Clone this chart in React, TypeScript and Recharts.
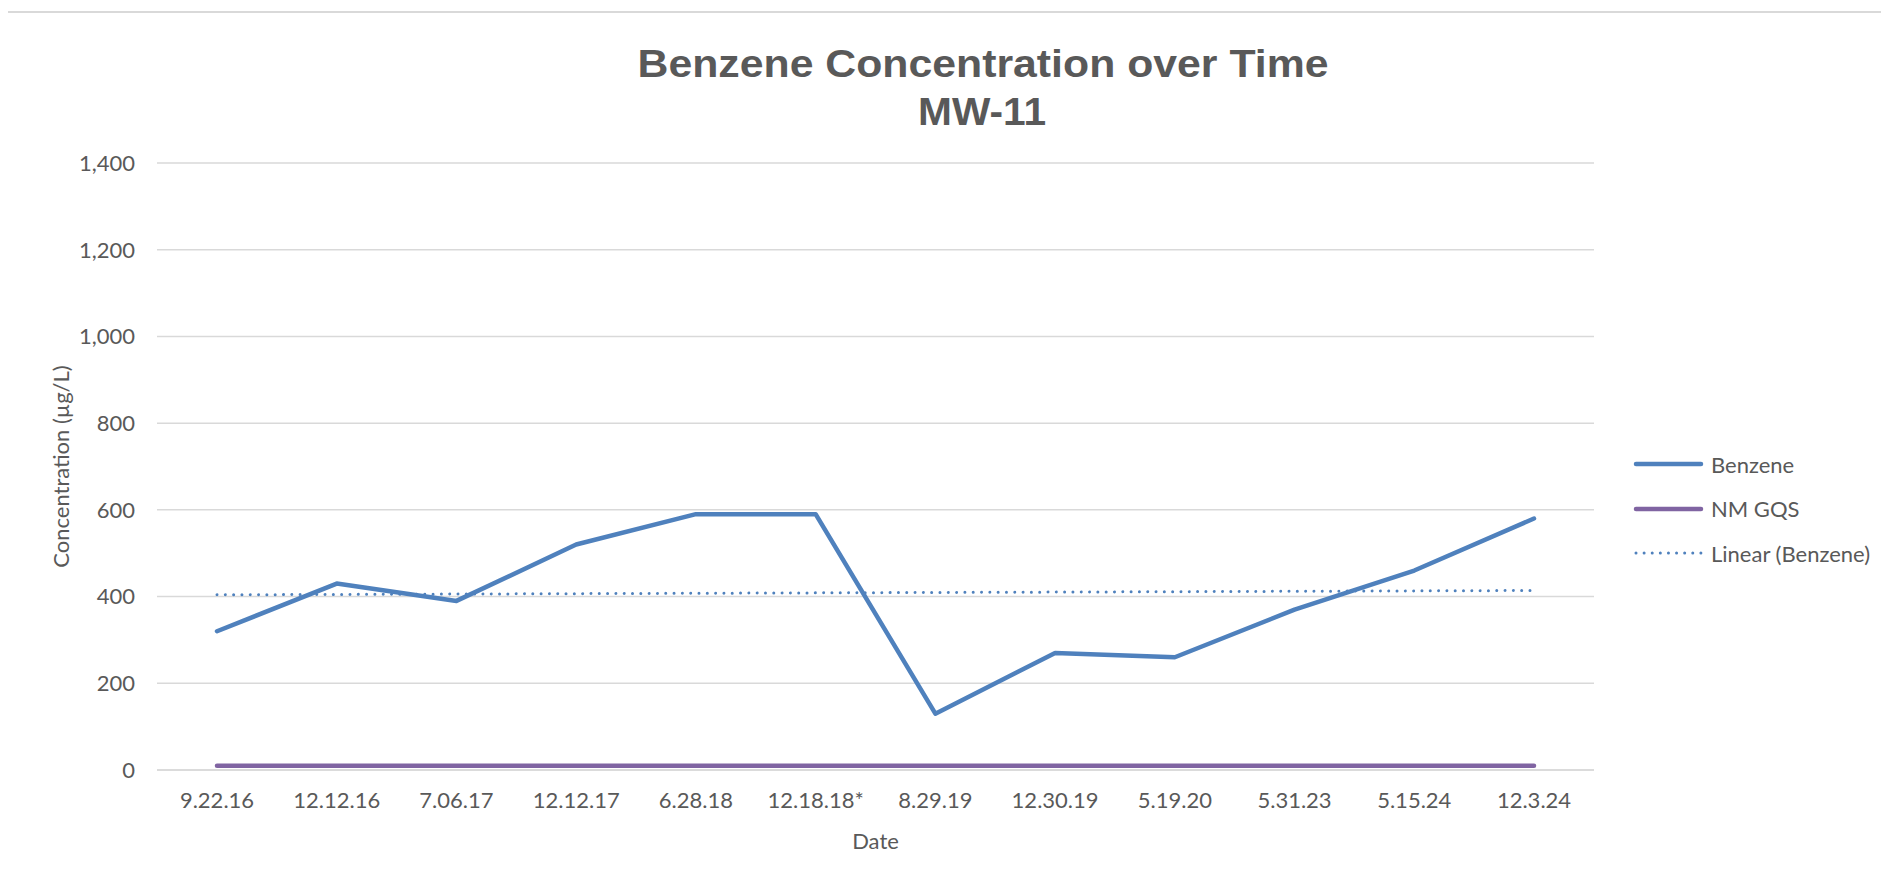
import React from "react";
import { LineChart, Line, XAxis, YAxis, CartesianGrid } from "recharts";

// values
const dates = ["9.22.16", "12.12.16", "7.06.17", "12.12.17", "6.28.18", "12.18.18*", "8.29.19", "12.30.19", "5.19.20", "5.31.23", "5.15.24", "12.3.24"];
const benzene = [320, 430, 390, 520, 590, 590, 130, 270, 260, 370, 460, 580];
const nmGqs = [10, 10, 10, 10, 10, 10, 10, 10, 10, 10, 10, 10];
// Excel linear trendline, only its two end values
const trend = [404, null, null, null, null, null, null, null, null, null, null, 414];
const yTicks = [0, 200, 400, 600, 800, 1000, 1200, 1400];
const titleLines = ["Benzene Concentration over Time", "MW-11"];
const legendNames = ["Benzene", "NM GQS", "Linear (Benzene)"];

const BLUE = "#4F81BD";
const PURPLE = "#8064A2";
const TEXT = "#595959";
const GRID = "#d9d9d9";
const FONT = "Lato, 'Open Sans', sans-serif";
const FS = 22;

const data = dates.map((date, i) => ({
  date,
  benzene: benzene[i],
  nmGqs: nmGqs[i],
  trend: trend[i],
}));

const YLabel = (props: any) => {
  const vb = props.viewBox || { x: 0, y: 0, width: 0, height: 0 };
  const cx = vb.x + 52;
  const cy = vb.y + vb.height / 2;
  return (
    <text
      x={cx}
      y={cy}
      transform={`rotate(-90 ${cx} ${cy})`}
      textAnchor="middle"
      dominantBaseline="central"
      fill={TEXT}
      fontSize={FS}
      fontFamily={FONT}
    >
      Concentration (µg/L)
    </text>
  );
};

const swatch = (i: number) => {
  if (i === 2) {
    return <line x1={3} y1={6} x2={68} y2={6} stroke={BLUE} strokeWidth={3} strokeDasharray="0.01 8.1" strokeLinecap="round" />;
  }
  return <line x1={3} y1={6} x2={68} y2={6} stroke={i === 0 ? BLUE : PURPLE} strokeWidth={4.5} strokeLinecap="round" />;
};

export default function App() {
  return (
    <div style={{ position: "relative", width: 1873, height: 870, fontFamily: FONT }}>
      <div
        style={{
          position: "absolute",
          left: -2,
          top: 3,
          width: 1883,
          height: 875,
          boxSizing: "border-box",
          borderTop: `2px solid ${GRID}`,
          borderLeft: `2px solid ${GRID}`,
        }}
      />
      <svg style={{ position: "absolute", left: 0, top: 0 }} width={1873} height={140}>
        <text x={975} y={69} textAnchor="middle" fill={TEXT} fontSize={39} fontWeight="bold"
          fontFamily="'Liberation Sans', Arial, sans-serif" textLength={691} lengthAdjust="spacingAndGlyphs">
          {titleLines[0]}
        </text>
        <text x={974} y={117} textAnchor="middle" fill={TEXT} fontSize={39} fontWeight="bold"
          fontFamily="'Liberation Sans', Arial, sans-serif" textLength={128} lengthAdjust="spacingAndGlyphs">
          {titleLines[1]}
        </text>
      </svg>
      <div style={{ position: "absolute", left: 0, top: 0 }}>
        <LineChart width={1873} height={870} data={data} margin={{ top: 155, right: 287, bottom: 28, left: 0 }}>
          <CartesianGrid horizontal vertical={false} stroke={GRID} strokeWidth={1.5} />
          <XAxis
            dataKey="date"
            height={80}
            padding={{ left: 60, right: 60 }}
            axisLine={{ stroke: GRID, strokeWidth: 1.5 }}
            tickLine={false}
            tickSize={0}
            tickMargin={22}
            interval={0}
            tick={{ fill: TEXT, fontSize: FS, fontFamily: FONT }}
            label={{ value: "Date", position: "insideBottom", offset: 1, fill: TEXT, fontSize: FS, fontFamily: FONT }}
          />
          <YAxis
            width={149}
            domain={[0, 1400]}
            ticks={yTicks}
            axisLine={false}
            tickLine={false}
            tickSize={0}
            tickMargin={22}
            tickFormatter={(v: number) => v.toLocaleString("en-US")}
            tick={{ fill: TEXT, fontSize: FS, fontFamily: FONT }}
            label={{ content: YLabel }}
          />
          <Line dataKey="nmGqs" name="NM GQS" stroke={PURPLE} strokeWidth={4.5} strokeLinecap="round" dot={false} activeDot={false} isAnimationActive={false} />
          <Line dataKey="trend" name="Linear (Benzene)" stroke={BLUE} strokeWidth={3} strokeDasharray="0.01 8.3" strokeLinecap="round" connectNulls dot={false} activeDot={false} isAnimationActive={false} />
          <Line dataKey="benzene" name="Benzene" stroke={BLUE} strokeWidth={4.5} strokeLinecap="round" strokeLinejoin="round" dot={false} activeDot={false} isAnimationActive={false} />
        </LineChart>
      </div>
      <div style={{ position: "absolute", left: 1625, top: 434 }}>
        {legendNames.map((name, i) => (
          <div key={name} style={{ display: "flex", alignItems: "center", height: 44.5, color: TEXT, fontSize: FS }}>
            <svg width={71} height={12} style={{ marginRight: 7 }}>{swatch(i)}</svg>
            <span>{name}</span>
          </div>
        ))}
      </div>
    </div>
  );
}
